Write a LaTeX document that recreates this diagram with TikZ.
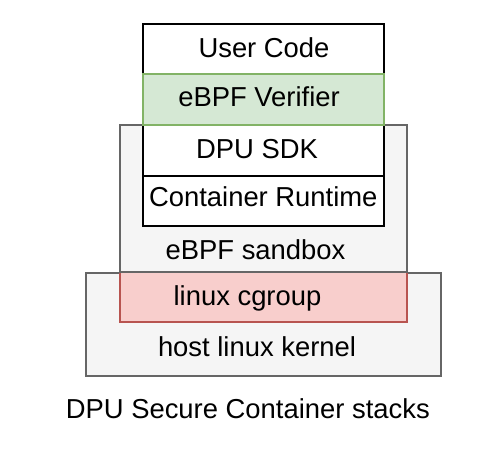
\documentclass[tikz,border=0pt]{standalone}
\usepackage{fontspec}
\setmainfont{Liberation Sans}
\definecolor{grayfill}{HTML}{F5F5F5}
\definecolor{graydraw}{HTML}{666666}
\definecolor{greenfill}{HTML}{D5E8D4}
\definecolor{greendraw}{HTML}{82B366}
\definecolor{redfill}{HTML}{F8CECC}
\definecolor{reddraw}{HTML}{B85450}
\tikzset{
  box/.style={rectangle, inner sep=0pt, line width=1.8pt},
  whitebox/.style={box, draw=black, fill=white},
  graybox/.style={box, draw=graydraw, fill=grayfill},
  greenbox/.style={box, draw=greendraw, fill=greenfill},
  redbox/.style={box, draw=reddraw, fill=redfill},
  lbl/.style={anchor=base, inner sep=0pt, font=\fontsize{27.4pt}{30pt}\selectfont}
}
\begin{document}
\begin{tikzpicture}[x=1pt,y=-1pt]
\useasboundingbox (0,0) rectangle (495,469);
% host kernel
\node[graybox, minimum width=355.3pt, minimum height=103pt] (host) at (263.35,324.2) {};
% cgroup
\node[redbox, minimum width=286.7pt, minimum height=50pt] (cgroup) at (263.35,297.3) {};
% sandbox
\node[graybox, minimum width=286.7pt, minimum height=147.3pt] (sandbox) at (263.35,198.65) {};
% stack
\node[whitebox, minimum width=240.7pt, minimum height=50.3pt] (user) at (263.65,49.15) {};
\node[whitebox, minimum width=240.7pt, minimum height=50.7pt] (sdk) at (263.65,150.35) {};
\node[whitebox, minimum width=240.7pt, minimum height=50.3pt] (runtime) at (263.65,200.85) {};
\node[greenbox, minimum width=240.7pt, minimum height=50.7pt] (verifier) at (263.65,99.65) {};
% labels
\node[lbl] (tuser) at (264,57) {User Code};
\node[lbl] (tverifier) at (259,106.7) {eBPF Verifier};
\node[lbl] (tsdk) at (257,158.3) {DPU SDK};
\node[lbl] (truntime) at (263.3,206.7) {Container Runtime};
\node[lbl] (tsandbox) at (255.5,259) {eBPF sandbox};
\node[lbl] (tcgroup) at (247.5,305.3) {linux cgroup};
\node[lbl] (thost) at (257,356) {host linux kernel};
\node[lbl] (tcaption) at (247.8,418) {DPU Secure Container stacks};
\end{tikzpicture}
\end{document}
